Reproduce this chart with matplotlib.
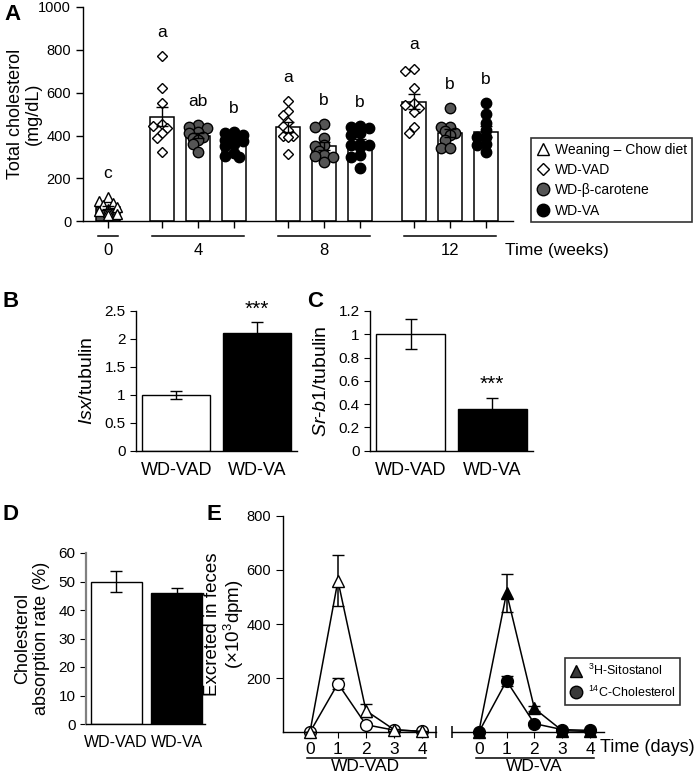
import numpy as np
import matplotlib.pyplot as plt
from matplotlib.lines import Line2D
from matplotlib.ticker import FuncFormatter

plt.rcParams['font.family'] = 'Liberation Sans'
plt.rcParams['mathtext.fontset'] = 'custom'
plt.rcParams['mathtext.rm'] = 'Liberation Sans'
plt.rcParams['mathtext.it'] = 'Liberation Sans:italic'
plt.rcParams['axes.linewidth'] = 1.0

# --- Panel A: total cholesterol (mg/dL) per animal ---
week_labels = ['0', '4', '8', '12']
chow_w0 = [112, 96, 86, 76, 66, 56, 50, 42, 36, 30]
vad_w4 = [770, 624, 550, 455, 445, 435, 410, 387, 325]
bc_w4 = [450, 440, 435, 415, 410, 395, 390, 380, 360, 325]
va_w4 = [415, 410, 405, 400, 390, 385, 380, 375, 370, 360, 350, 320, 305, 300]
vad_w8 = [560, 515, 495, 465, 445, 425, 400, 397, 395, 316]
bc_w8 = [455, 440, 390, 355, 350, 330, 310, 305, 300, 275]
va_w8 = [445, 438, 435, 410, 405, 362, 358, 355, 345, 310, 300, 248]
vad_w12 = [713, 700, 620, 550, 545, 530, 510, 438, 413]
bc_w12 = [530, 440, 440, 420, 410, 405, 380, 340, 340]
va_w12 = [550, 500, 457, 425, 395, 392, 362, 358, 325]
letters_a = ['c', 'a', 'ab', 'b', 'a', 'b', 'b', 'a', 'b', 'b']

# --- Panel B / C / D ---
groups_bc = ['WD-VAD', 'WD-VA']
isx = [1.0, 2.1]
isx_err = [0.08, 0.2]
srb1 = [1.0, 0.36]
srb1_err = [0.13, 0.09]
absorption = [50, 46]
absorption_err = [3.8, 1.8]

# --- Panel E: fecal excretion (x10^3 dpm) ---
days = [0, 1, 2, 3, 4]
vad_sito = [0, 560, 80, 10, 3]
vad_sito_err = [0, 95, 25, 4, 2]
vad_chol = [0, 180, 28, 8, 4]
vad_chol_err = [0, 20, 5, 2, 1]
va_sito = [0, 515, 88, 6, 3]
va_sito_err = [0, 70, 8, 2, 1]
va_chol = [0, 190, 32, 10, 7]
va_chol_err = [0, 18, 5, 3, 2]

W, H = 697, 781
fig = plt.figure(figsize=(W / 100, H / 100), dpi=100)


def px_axes(l, t, r, b):
    ax = fig.add_axes([l / W, 1 - b / H, (r - l) / W, (b - t) / H])
    ax.patch.set_visible(False)
    return ax


def swarm(vals, x0, xpx=36.0, ypx=0.2146, d=6.0):
    # simple deterministic beeswarm
    placed = []
    xs = np.zeros(len(vals))
    order = np.argsort(vals)[::-1]
    cand = [0, -0.13, 0.13, -0.25, 0.25, -0.06, 0.06, -0.19, 0.19]
    for i in order:
        best = cand[0]
        for c in cand:
            ok = True
            for (px, py) in placed:
                if np.hypot((c - px) * xpx, (vals[i] - py) * ypx) < d:
                    ok = False
                    break
            if ok:
                best = c
                break
        xs[i] = x0 + best
        placed.append((best, vals[i]))
    return xs


# ================= Panel A =================
axA = px_axes(83, 7, 513, 221.3)
series = [
    (chow_w0, '^', 'white', '#555555', 7.5),
    (vad_w4, 'D', 'white', 'white', 5.5),
    (bc_w4, 'o', '#555555', 'white', 7.5),
    (va_w4, 'o', 'black', 'white', 7.5),
    (vad_w8, 'D', 'white', 'white', 5.5),
    (bc_w8, 'o', '#555555', 'white', 7.5),
    (va_w8, 'o', 'black', 'white', 7.5),
    (vad_w12, 'D', 'white', 'white', 5.5),
    (bc_w12, 'o', '#555555', 'white', 7.5),
    (va_w12, 'o', 'black', 'white', 7.5),
]
positions = [0] + [1.5 + g * 3.5 + k for g in range(3) for k in range(3)]
for pos, (vals, mk, mfc, barc, ms), let in zip(positions, series, letters_a):
    vals = np.array(vals, float)
    m = vals.mean()
    sem = vals.std(ddof=1) / np.sqrt(len(vals))
    axA.bar(pos, m, width=0.64, color=barc, edgecolor='black', lw=1.1, zorder=1)
    xs = swarm(vals, pos)
    axA.plot(xs, vals, ls='none', marker=mk, ms=ms, mfc=mfc, mec='black',
             mew=1.0, zorder=2)
    axA.errorbar(pos, m, yerr=sem, color='black', lw=1, capsize=4,
                 capthick=1, zorder=3)
    axA.text(pos, vals.max() + 110, let, ha='center', va='center', fontsize=12.5)

axA.set_xlim(-0.694, 11.25)
axA.set_ylim(0, 1000)
axA.set_yticks(range(0, 1001, 200))
axA.set_xticks(positions)
axA.set_xticklabels([])
axA.tick_params(axis='both', direction='out', length=5, width=1, labelsize=10.5)
for s in ['top', 'right']:
    axA.spines[s].set_visible(False)
axA.set_ylabel('Total cholesterol\n(mg/dL)', fontsize=13, linespacing=1.05)
axA.yaxis.set_label_coords((42 - 83) / 430, 0.5)

group_pos = [[0], positions[1:4], positions[4:7], positions[7:10]]
tr = axA.get_xaxis_transform()
for gp, lab in zip(group_pos, week_labels):
    axA.plot([gp[0] - 0.27, gp[-1] + 0.27], [-0.068, -0.068], color='black',
             lw=1.1, transform=tr, clip_on=False)
    axA.text(np.mean(gp), -0.135, lab, ha='center', va='center', fontsize=12,
             transform=tr)
fig.text(505 / W, 1 - 250 / H, 'Time (weeks)', ha='left', va='center', fontsize=12.5)

handles = [
    Line2D([], [], ls='none', marker='^', ms=9, mfc='white', mec='black'),
    Line2D([], [], ls='none', marker='D', ms=6.5, mfc='white', mec='black'),
    Line2D([], [], ls='none', marker='o', ms=9, mfc='#555555', mec='black'),
    Line2D([], [], ls='none', marker='o', ms=9, mfc='black', mec='black'),
]
legA = fig.legend(handles, ['Weaning – Chow diet', 'WD-VAD', 'WD-β-carotene', 'WD-VA'],
                  loc='upper left', bbox_to_anchor=(531 / W, 1 - 138 / H),
                  fontsize=10, frameon=True, fancybox=False, handlelength=1.0,
                  handletextpad=0.4, borderpad=0.35, labelspacing=0.45,
                  borderaxespad=0)
legA.get_frame().set_edgecolor('black')
legA.get_frame().set_linewidth(1.2)


# ================= Panels B, C, D =================
def small_bars(ax, vals, errs, ylim, yticks, xlim=(-0.5, 1.5), xfs=13):
    ax.bar([0, 1], vals, width=0.85, color=['white', 'black'], edgecolor='black',
           lw=1, zorder=1)
    ax.errorbar([0, 1], vals, yerr=errs, ls='none', color='black', lw=1,
                capsize=4, capthick=1, zorder=2)
    ax.set_xlim(*xlim)
    ax.set_ylim(*ylim)
    ax.set_yticks(yticks)
    ax.yaxis.set_major_formatter(FuncFormatter(lambda v, p: '%g' % round(v, 2)))
    ax.set_xticks([0, 1])
    ax.set_xticklabels(groups_bc, fontsize=xfs)
    ax.tick_params(axis='x', length=0, pad=8)
    ax.tick_params(axis='y', direction='out', length=4, labelsize=11)
    for s in ['top', 'right']:
        ax.spines[s].set_visible(False)


axB = px_axes(136, 311, 297, 451)
small_bars(axB, isx, isx_err, (0, 2.5), np.arange(0, 2.51, 0.5))
axB.set_ylabel(r'$\mathit{Isx}$/tubulin', fontsize=14, labelpad=6)
axB.text(1, isx[1] + isx_err[1] + 0.06, '***', ha='center', va='bottom', fontsize=15)

axC = px_axes(370, 311, 533, 450.7)
small_bars(axC, srb1, srb1_err, (0, 1.2), np.arange(0, 1.21, 0.2))
axC.set_ylabel(r'$\mathit{Sr}$-$\mathit{b1}$/tubulin', fontsize=14, labelpad=6)
axC.text(1, srb1[1] + srb1_err[1] + 0.04, '***', ha='center', va='bottom', fontsize=15)

axD = px_axes(86, 553, 205, 724)
small_bars(axD, absorption, absorption_err, (0, 60), range(0, 61, 10),
           xlim=(-0.5, 1.47), xfs=11.5)
axD.spines['left'].set_color('#808080')
axD.spines['left'].set_linewidth(1.6)
axD.set_ylabel('Cholesterol\nabsorption rate (%)', fontsize=13, labelpad=6)

# ================= Panel E =================
axE1 = px_axes(283, 515.7, 436, 732.3)
axE2 = px_axes(452, 515.7, 604, 732.3)
ecfg = [
    (axE1, vad_sito, vad_sito_err, vad_chol, vad_chol_err, 'white', 'WD-VAD'),
    (axE2, va_sito, va_sito_err, va_chol, va_chol_err, 'black', 'WD-VA'),
]
for ax, sito, sito_e, chol, chol_e, fc, lab in ecfg:
    ax.errorbar(days, sito, yerr=sito_e, color='black', lw=1.1, marker='^', ms=8,
                mfc=fc, mec='black', mew=1, capsize=4, capthick=1, zorder=3, clip_on=False)
    ax.errorbar(days, chol, yerr=chol_e, color='black', lw=1.1, marker='o', ms=8.5,
                mfc=fc, mec='black', mew=1, capsize=4, capthick=1, zorder=2, clip_on=False)
    ax.set_xlim(-0.96, 4.5)
    ax.set_ylim(0, 800)
    ax.set_xticks(days)
    ax.set_xticklabels([str(d) for d in days], fontsize=12.5)
    ax.tick_params(axis='x', direction='out', length=4, pad=3)
    for s in ['top', 'right']:
        ax.spines[s].set_visible(False)
    trE = ax.get_xaxis_transform()
    ax.plot([-0.1, 4.15], [-0.118, -0.118], color='black', lw=1.1, transform=trE,
            clip_on=False)
    ax.text(2, -0.158, lab, ha='center', va='center', fontsize=12.5, transform=trE)

axE1.set_yticks([200, 400, 600, 800])
axE1.tick_params(axis='y', direction='out', length=5, labelsize=10.5)
axE1.set_ylabel('Excreted in feces\n(×10$^3$dpm)', fontsize=13.5, linespacing=1.05)
axE1.yaxis.set_label_coords((246 - 283) / 153, 0.5)
axE1.plot([4.5], [0], marker='|', ms=8, mew=1.1, color='black', clip_on=False)
axE2.spines['left'].set_visible(False)
axE2.set_yticks([])
axE2.plot([-0.96], [0], marker='|', ms=8, mew=1.1, color='black', clip_on=False)
fig.text(600 / W, 1 - 748 / H, 'Time (days)', ha='left', va='center', fontsize=13)

handlesE = [
    Line2D([], [], ls='none', marker='^', ms=9, mfc='#3a3a3a', mec='black'),
    Line2D([], [], ls='none', marker='o', ms=9, mfc='#3a3a3a', mec='black'),
]
legE = fig.legend(handlesE, ['$^{3}$H-Sitostanol', '$^{14}$C-Cholesterol'],
                  loc='upper left', bbox_to_anchor=(565 / W, 1 - 658 / H),
                  fontsize=9, frameon=True, fancybox=False, handlelength=1.0,
                  handletextpad=0.4, borderpad=0.4, labelspacing=0.5, borderaxespad=0)
legE.get_frame().set_edgecolor('black')
legE.get_frame().set_linewidth(1.2)

# panel letters
for lab, x, y in [('A', 4, 15), ('B', 3, 301), ('C', 307, 301), ('D', 3, 515), ('E', 206, 515)]:
    fig.text(x / W, 1 - y / H, lab, fontsize=16, fontweight='bold', ha='left', va='center')

fig.savefig('out.png', dpi=100)
